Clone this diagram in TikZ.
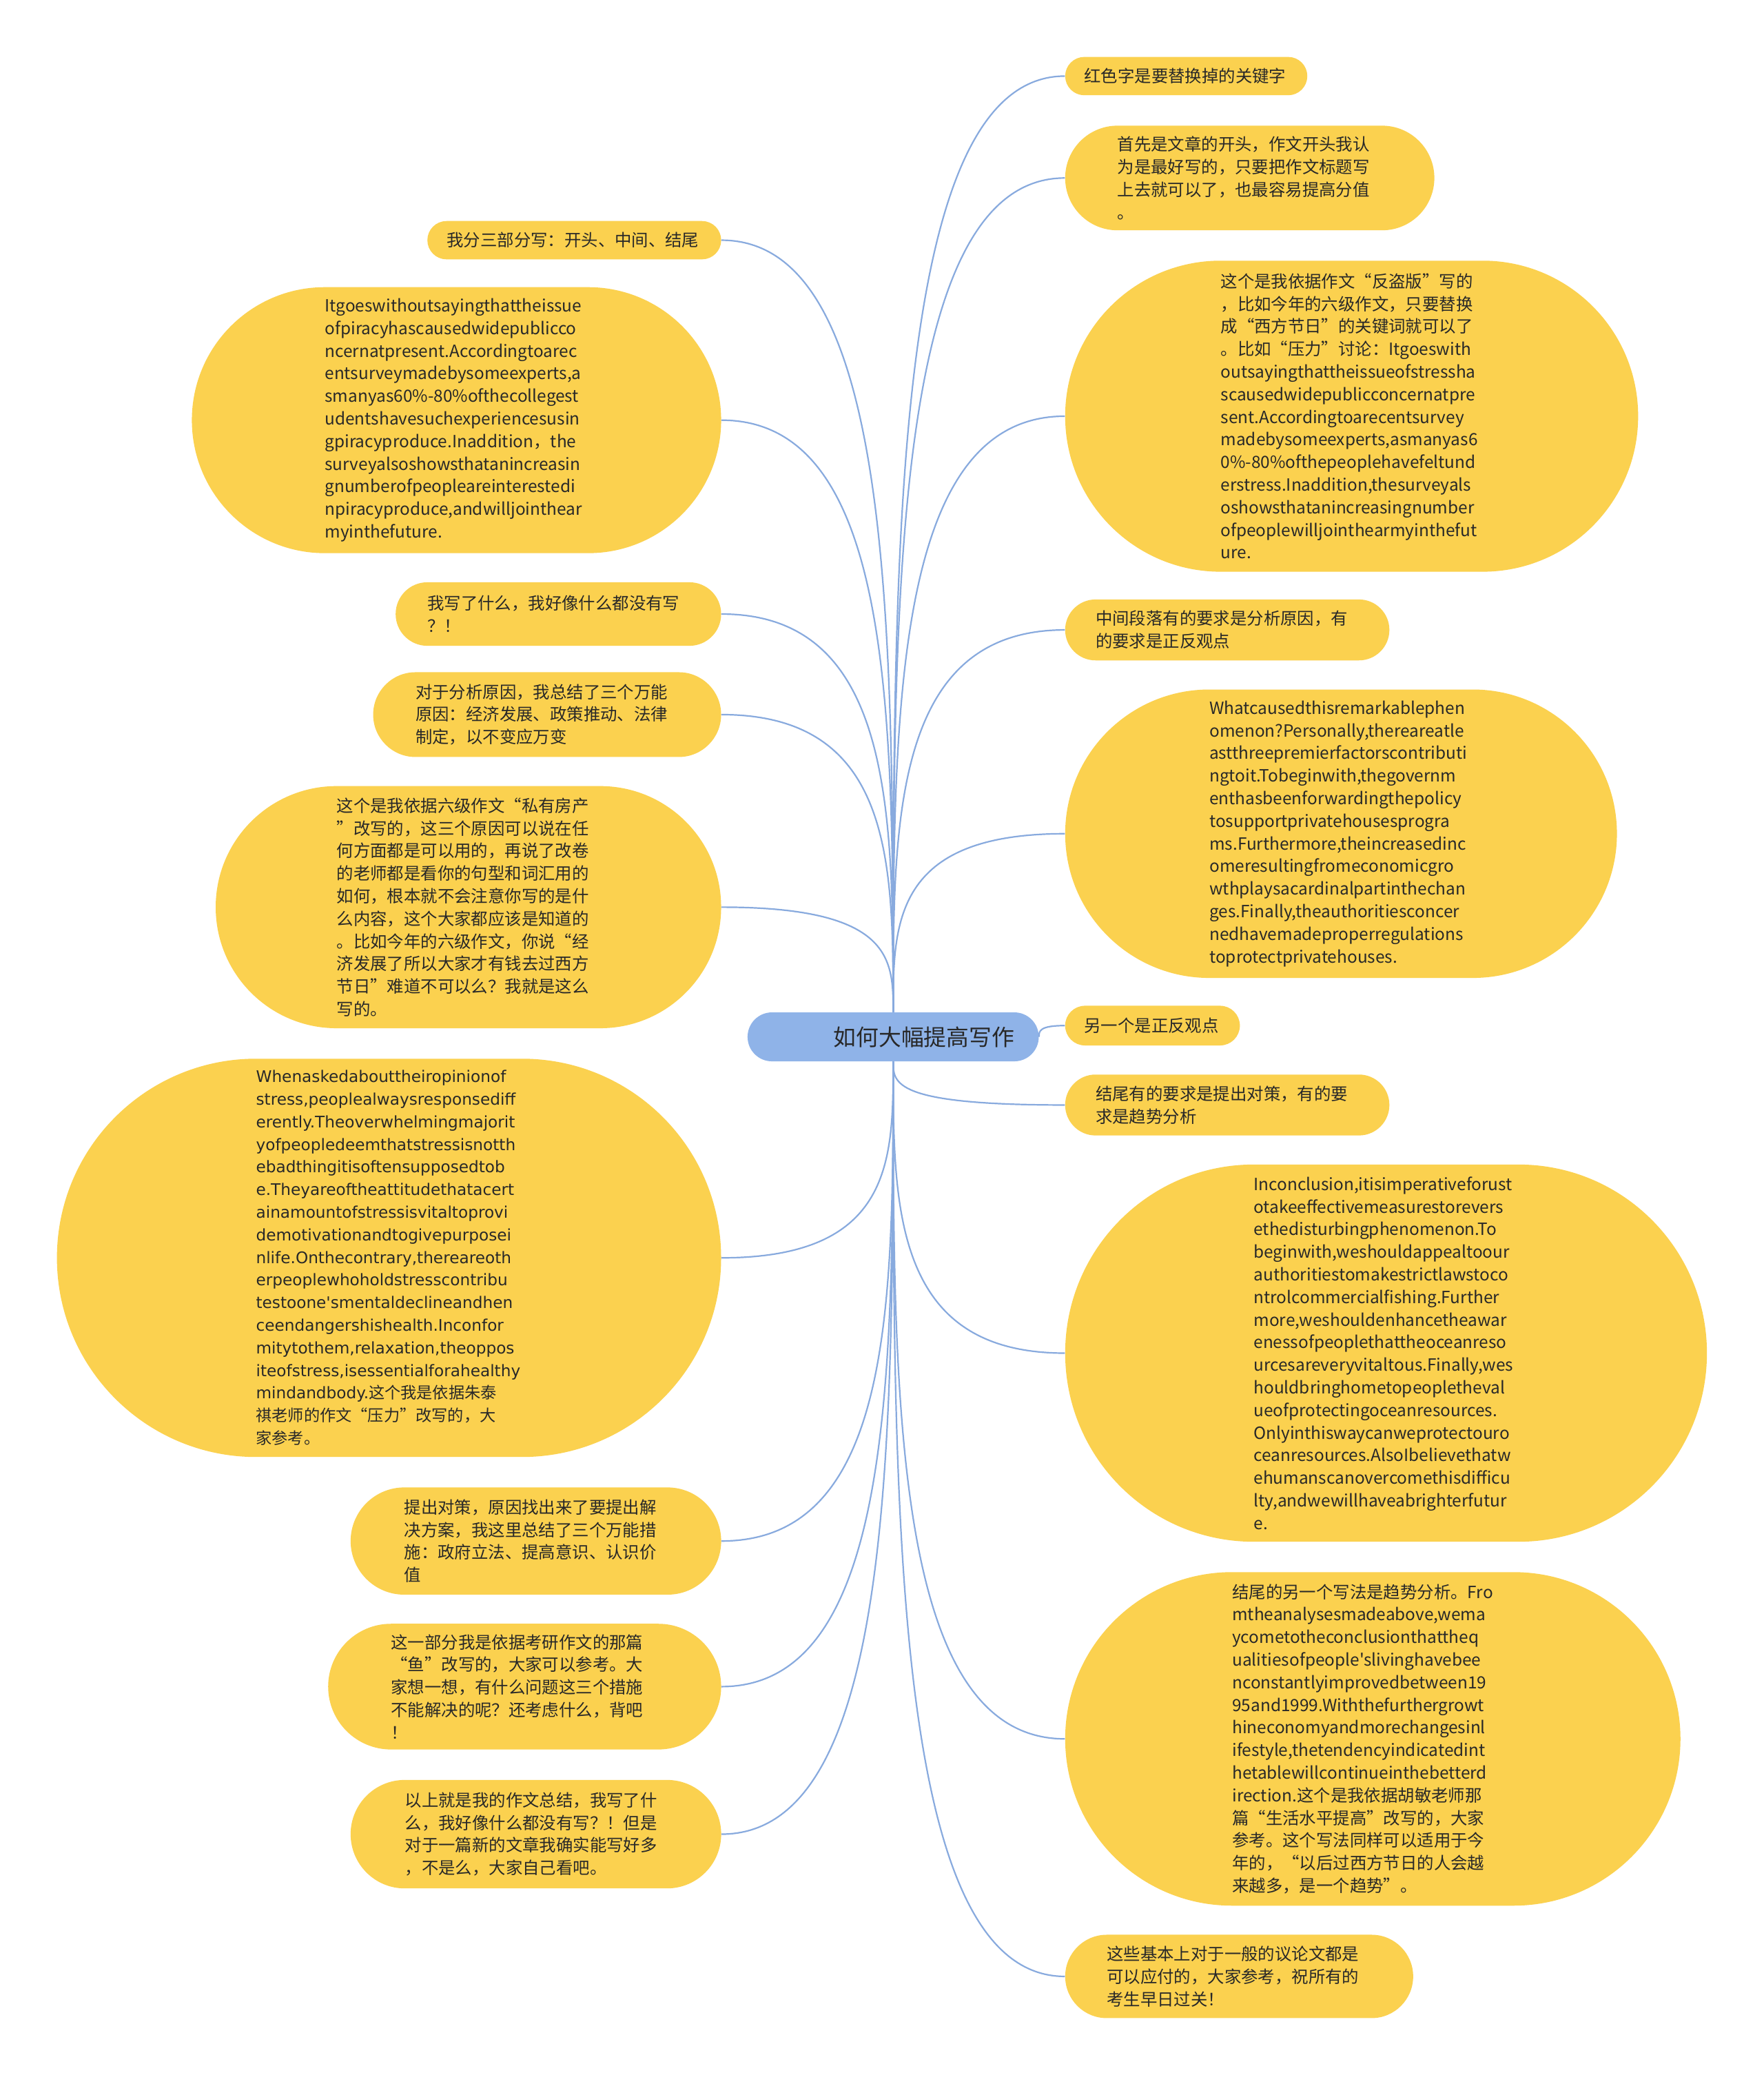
\documentclass[tikz,border=0pt]{standalone}
\usepackage{fontspec}
\setmainfont{Noto Sans CJK SC}[Ligatures=TeXOff]
\newfontfamily\cjkfont{Noto Sans CJK SC}[Ligatures=TeXOff]
\newfontfamily\verdfont{DejaVu Sans}[Ligatures=TeXOff]
\usetikzlibrary{calc}
\definecolor{topicyellow}{RGB}{251,209,79}
\definecolor{rootblue}{RGB}{143,179,232}
\definecolor{linkblue}{RGB}{136,170,222}
\definecolor{textgray}{RGB}{40,40,40}
\tikzset{
topic/.style n args={4}{rectangle,fill=topicyellow,text=textgray,inner xsep=0pt,inner ysep=0pt,align=left,font=\fontsize{12.2pt}{16.4pt}\selectfont,text width=#1,minimum width=#2,minimum height=#3,rounded corners=#4},
root/.style={rectangle,fill=rootblue,text=textgray,inner xsep=0pt,inner ysep=0pt,align=right,text width=176pt,minimum width=211.3pt,minimum height=35.5pt,rounded corners=17.7pt,font=\fontsize{16.4pt}{18pt}\selectfont},
link/.style={draw=linkblue,line width=1.1pt,to path={.. controls ($(\tikztostart)!.5!(\tikztostart|-\tikztotarget)$) and (\tikztostart|-\tikztotarget) .. (\tikztotarget)}}
}
\begin{document}
\begin{tikzpicture}[x=0.96025pt,y=-0.96025pt]
\fill[white](0,0)rectangle(1333,1568);\useasboundingbox(0,0)rectangle(1333,1568);
\node[root](t)at(675,783.5){如何大幅提高写作};
\node[topic={148pt}{175.7pt}{27.8pt}{13.9pt}](r1)at(896.5,57.5){红色字是要替换掉的关键字};
\node[topic={192pt}{267.9pt}{75.9pt}{37.9pt}](r2)at(944.5,134.5){首先是文章的开头，作文开头我认\\为是最好写的，只要把作文标题写\\上去就可以了，也最容易提高分值\\。};
\node[topic={190pt}{415.8pt}{225.7pt}{112.8pt}](r3)at(1021.5,314.5){这个是我依据作文“反盗版”写的\\，比如今年的六级作文，只要替换\\成“西方节日”的关键词就可以了\\。比如“压力”讨论：Itgoeswith\\outsayingthattheissueofstressha\\scausedwidepublicconcernatpre\\sent.Accordingtoarecentsurvey\\madebysomeexperts,asmanyas6\\0\%-80\%ofthepeoplehavefeltund\\erstress.Inaddition,thesurveyals\\oshowsthatanincreasingnumber\\ofpeoplewilljointhearmyinthefut\\ure.};
\node[topic={191pt}{235.3pt}{44.2pt}{22.1pt}](r4)at(927.5,476){中间段落有的要求是分析原因，有\\的要求是正反观点};
\node[topic={191pt}{400.4pt}{209.3pt}{104.6pt}](r5)at(1013.5,630){Whatcausedthisremarkablephen\\omenon?Personally,thereareatle\\astthreepremierfactorscontributi\\ngtoit.Tobeginwith,thegovernm\\enthasbeenforwardingthepolicy\\tosupportprivatehousesprogra\\ms.Furthermore,theincreasedinc\\omeresultingfromeconomicgro\\wthplaysacardinalpartinthechan\\ges.Finally,theauthoritiesconcer\\nedhavemadeproperregulations\\toprotectprivatehouses.};
\node[topic={99pt}{126.8pt}{28.8pt}{14.4pt}](r6)at(871,775){另一个是正反观点};
\node[topic={191pt}{235.3pt}{44.2pt}{22.1pt}](r7)at(927.5,835){结尾有的要求是提出对策，有的要\\求是趋势分析};
\node[topic={192pt}{465.7pt}{273.7pt}{136.8pt}](r8)at(1047.5,1022.5){Inconclusion,itisimperativeforust\\otakeeffectivemeasurestorevers\\ethedisturbingphenomenon.To\\beginwith,weshouldappealtoour\\authoritiestomakestrictlawstoco\\ntrolcommercialfishing.Further\\more,weshouldenhancetheawar\\enessofpeoplethattheoceanreso\\urcesareveryvitaltous.Finally,wes\\houldbringhometopeopletheval\\ueofprotectingoceanresources.\\Onlyinthiswaycanweprotectouro\\ceanresources.AlsoIbelievethatw\\ehumanscanovercomethisdifficu\\lty,andwewillhaveabrighterfutur\\e.};
\node[topic={204pt}{446.5pt}{242pt}{121pt}](r9)at(1037.5,1314){结尾的另一个写法是趋势分析。Fro\\mtheanalysesmadeabove,wema\\ycometotheconclusionthattheq\\ualitiesofpeople'slivinghavebee\\nconstantlyimprovedbetween19\\95and1999.Withthefurthergrowt\\hineconomyandmorechangesinl\\ifestyle,thetendencyindicatedint\\hetablewillcontinueinthebetterd\\irection.这个是我依据胡敏老师那\\篇“生活水平提高”改写的，大家\\参考。这个写法同样可以适用于今\\年的，“以后过西方节日的人会越\\来越多，是一个趋势”。};
\node[topic={192pt}{252.5pt}{60.5pt}{30.2pt}](r10)at(936.5,1493.5){这些基本上对于一般的议论文都是\\可以应付的，大家参考，祝所有的\\考生早日过关！};
\node[topic={185pt}{213.2pt}{27.8pt}{13.9pt}](l1)at(434,181.5){我分三部分写：开头、中间、结尾};
\node[topic={191pt}{384.1pt}{193pt}{96.5pt}](l2)at(345,317.5){Itgoeswithoutsayingthattheissue\\ofpiracyhascausedwidepublicco\\ncernatpresent.Accordingtoarec\\entsurveymadebysomeexperts,a\\smanyas60\%-80\%ofthecollegest\\udentshavesuchexperiencesusin\\gpiracyproduce.Inaddition，the\\surveyalsoshowsthatanincreasin\\gnumberofpeopleareinterestedi\\npiracyproduce,andwilljointhear\\myinthefuture.};
\node[topic={190pt}{236.2pt}{46.1pt}{23pt}](l3)at(422,464){我写了什么，我好像什么都没有写\\？！};
\node[topic={191pt}{252.5pt}{61.5pt}{30.7pt}](l4)at(413.5,540){对于分析原因，我总结了三个万能\\原因：经济发展、政策推动、法律\\制定，以不变应万变};
\node[topic={191pt}{366.8pt}{175.7pt}{87.8pt}](l5)at(354,685.5){这个是我依据六级作文“私有房产\\”改写的，这三个原因可以说在任\\何方面都是可以用的，再说了改卷\\的老师都是看你的句型和词汇用的\\如何，根本就不会注意你写的是什\\么内容，这个大家都应该是知道的\\。比如今年的六级作文，你说“经\\济发展了所以大家才有钱去过西方\\节日”难道不可以么？我就是这么\\写的。};
\node[topic={193pt}{482pt}{289pt}{144.5pt},font=\verdfont\fontsize{11.6pt}{16.4pt}\selectfont](l6)at(294,950.5){Whenaskedabouttheiropinionof\\stress,peoplealwaysresponsediff\\erently.Theoverwhelmingmajorit\\yofpeopledeemthatstressisnotth\\ebadthingitisoftensupposedtob\\e.Theyareoftheattitudethatacert\\ainamountofstressisvitaltoprovi\\demotivationandtogivepurposei\\nlife.Onthecontrary,thereareoth\\erpeoplewhoholdstresscontribu\\testoone'smentaldeclineandhen\\ceendangershishealth.Inconfor\\mitytothem,relaxation,theoppos\\iteofstress,isessentialforahealthy\\mindandbody.{\cjkfont 这个我是依据朱泰}\\{\cjkfont 祺老师的作文“压力”改写的，大}\\{\cjkfont 家参考。}};
\node[topic={191pt}{268.9pt}{77.8pt}{38.9pt}](l7)at(405,1164.5){提出对策，原因找出来了要提出解\\决方案，我这里总结了三个万能措\\施：政府立法、提高意识、认识价\\值};
\node[topic={194pt}{285.2pt}{91.2pt}{45.6pt}](l8)at(396.5,1274.5){这一部分我是依据考研作文的那篇\\“鱼”改写的，大家可以参考。大\\家想一想，有什么问题这三个措施\\不能解决的呢？还考虑什么，背吧\\！};
\node[topic={190pt}{268.9pt}{78.7pt}{39.3pt}](l9)at(405,1386){以上就是我的作文总结，我写了什\\么，我好像什么都没有写？！但是\\对于一篇新的文章我确实能写好多\\，不是么，大家自己看吧。};
\draw[link](t.north)to(r1.west);\draw[link](t.north)to(r2.west);\draw[link](t.north)to(r3.west);\draw[link](t.north)to(r4.west);\draw[link](t.north)to(r5.west);
\draw[link](t.east)to(r6.west);
\draw[link](t.south)to(r7.west);\draw[link](t.south)to(r8.west);\draw[link](t.south)to(r9.west);\draw[link](t.south)to(r10.west);
\draw[link](t.north)to(l1.east);\draw[link](t.north)to(l2.east);\draw[link](t.north)to(l3.east);\draw[link](t.north)to(l4.east);\draw[link](t.north)to(l5.east);
\draw[link](t.south)to(l6.east);\draw[link](t.south)to(l7.east);\draw[link](t.south)to(l8.east);\draw[link](t.south)to(l9.east);
\end{tikzpicture}
\end{document}
